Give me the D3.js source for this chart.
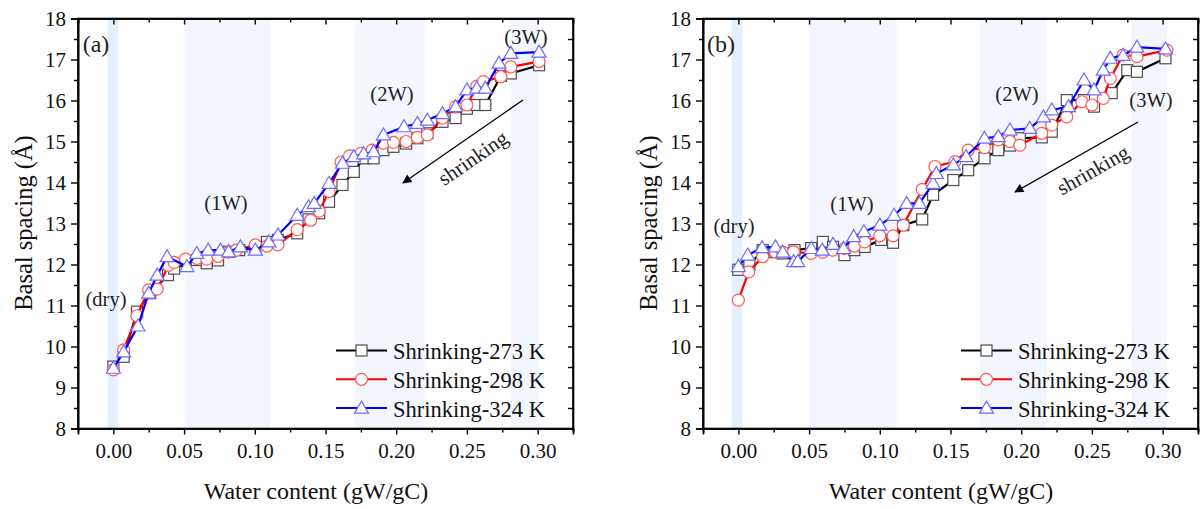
<!DOCTYPE html>
<html>
<head>
<meta charset="utf-8">
<script src="https://cdn.jsdelivr.net/npm/d3@7"></script>
<style>
  html, body { margin: 0; padding: 0; background: #fff; }
  svg { display: block; font-family: "Liberation Serif", "Times New Roman", serif; }
</style>
</head>
<body>
<svg id="chart" width="1204" height="509"></svg>
<script>
// ---- Panel (a) ----
const waterA273 = [0, 0.0073, 0.0167, 0.026, 0.0386, 0.043, 0.059, 0.066, 0.074, 0.0815, 0.089, 0.1004, 0.1086, 0.1164, 0.13, 0.138, 0.1455, 0.1525, 0.162, 0.170, 0.177, 0.184, 0.191, 0.198, 0.207, 0.215, 0.222, 0.2327, 0.242, 0.25, 0.257, 0.263, 0.274, 0.281, 0.301];
const spacingA273 = [9.51, 9.75, 10.85, 11.3, 11.74, 11.9, 12.11, 12.03, 12.1, 12.31, 12.35, 12.4, 12.55, 12.6, 12.76, 13.1, 13.25, 13.53, 13.94, 14.26, 14.59, 14.59, 14.79, 14.87, 14.95, 15.08, 15.2, 15.48, 15.57, 15.8, 15.89, 15.89, 16.6, 16.66, 16.86];
const waterA298 = [0, 0.0073, 0.0167, 0.025, 0.031, 0.039, 0.043, 0.051, 0.059, 0.066, 0.074, 0.0815, 0.087, 0.1004, 0.1086, 0.1164, 0.13, 0.1395, 0.1455, 0.1525, 0.161, 0.167, 0.175, 0.183, 0.191, 0.198, 0.207, 0.215, 0.222, 0.2327, 0.242, 0.25, 0.257, 0.2617, 0.274, 0.281, 0.301];
const spacingA298 = [9.43, 9.92, 10.75, 11.38, 11.4, 11.98, 12.05, 12.13, 12.15, 12.13, 12.2, 12.3, 12.35, 12.48, 12.45, 12.48, 12.85, 13.08, 13.3, 13.78, 14.5, 14.65, 14.71, 14.79, 14.96, 14.98, 15.0, 15.1, 15.16, 15.57, 15.85, 15.89, 16.35, 16.46, 16.58, 16.82, 16.95];
const waterA324 = [0, 0.0073, 0.0174, 0.025, 0.031, 0.038, 0.052, 0.059, 0.067, 0.0757, 0.0815, 0.0898, 0.1004, 0.11, 0.1164, 0.13, 0.138, 0.142, 0.1525, 0.162, 0.170, 0.177, 0.184, 0.191, 0.2055, 0.215, 0.222, 0.2327, 0.242, 0.25, 0.257, 0.263, 0.2727, 0.281, 0.301];
const spacingA324 = [9.47, 9.87, 10.5, 11.3, 11.74, 12.19, 11.95, 12.27, 12.35, 12.35, 12.31, 12.43, 12.35, 12.55, 12.72, 13.2, 13.41, 13.49, 13.98, 14.47, 14.63, 14.7, 14.75, 15.16, 15.36, 15.44, 15.52, 15.68, 15.85, 16.26, 16.3, 16.3, 16.91, 17.15, 17.18];

// ---- Panel (b) ----
const waterB273 = [0, 0.0078, 0.0172, 0.0262, 0.0314, 0.0397, 0.0515, 0.0597, 0.0669, 0.075, 0.082, 0.0893, 0.101, 0.1094, 0.1166, 0.130, 0.1377, 0.152, 0.1625, 0.174, 0.1838, 0.192, 0.199, 0.2145, 0.2216, 0.2322, 0.2444, 0.2515, 0.264, 0.275, 0.2818, 0.302];
const spacingB273 = [11.87, 11.99, 12.35, 12.3, 12.27, 12.35, 12.4, 12.55, 12.43, 12.23, 12.35, 12.43, 12.6, 12.53, 12.96, 13.1, 13.7, 14.06, 14.3, 14.59, 14.79, 14.9, 15.08, 15.1, 15.24, 16.01, 16.01, 15.85, 16.18, 16.74, 16.7, 17.03];
const waterB298 = [0, 0.0073, 0.0172, 0.0262, 0.0314, 0.039, 0.0515, 0.0597, 0.0669, 0.075, 0.082, 0.0893, 0.1, 0.1094, 0.1166, 0.130, 0.139, 0.1531, 0.1625, 0.174, 0.1838, 0.192, 0.199, 0.2145, 0.2216, 0.2322, 0.2429, 0.25, 0.258, 0.263, 0.272, 0.2818, 0.303];
const spacingB298 = [11.13, 11.82, 12.19, 12.3, 12.3, 12.31, 12.27, 12.3, 12.35, 12.39, 12.45, 12.55, 12.7, 12.7, 12.96, 13.83, 14.39, 14.51, 14.79, 14.85, 15.04, 15.0, 14.91, 15.2, 15.4, 15.6, 15.97, 15.89, 16.05, 16.54, 17.11, 17.07, 17.23];
const waterB324 = [0, 0.0066, 0.0168, 0.0262, 0.0314, 0.039, 0.042, 0.0515, 0.0593, 0.0669, 0.0744, 0.0815, 0.0888, 0.1, 0.1101, 0.119, 0.128, 0.1377, 0.14, 0.152, 0.161, 0.174, 0.1838, 0.192, 0.206, 0.2157, 0.2216, 0.2334, 0.2444, 0.2515, 0.258, 0.263, 0.272, 0.2818, 0.302];
const spacingB324 = [11.95, 12.23, 12.41, 12.43, 12.3, 12.07, 12.07, 12.39, 12.35, 12.49, 12.39, 12.68, 12.8, 12.96, 13.2, 13.49, 13.49, 13.98, 14.22, 14.43, 14.63, 15.08, 15.12, 15.28, 15.32, 15.6, 15.77, 15.85, 16.5, 16.26, 16.74, 17.03, 17.1, 17.3, 17.26];

// Hydration-state bands [start, end] in gW/gC
const bandStartA = [-0.004, 0.0503, 0.171, 0.281];
const bandEndA   = [0.0034, 0.111, 0.220, 0.301];
const bandStartB = [-0.0047, 0.0504, 0.171, 0.278];
const bandEndB   = [0.003, 0.112, 0.218, 0.303];

const seriesNames = ["Shrinking-273 K", "Shrinking-298 K", "Shrinking-324 K"];
const xTickValues = [0, 0.05, 0.10, 0.15, 0.20, 0.25, 0.30];
const yTickValues = [8, 9, 10, 11, 12, 13, 14, 15, 16, 17, 18];

const lineColors = ["#000000", "#ff0000", "#0000ff"];
const markerColors = ["#4d4d4d", "#ff5a5a", "#6b6bff"];
const markerTypes = ["square", "circle", "triangle"];

const svg = d3.select("#chart");
const FONT = "Liberation Serif, Times New Roman, serif";

function marker(sel, type, color) {
  if (type === "square") {
    sel.append("rect").attr("x", -5.5).attr("y", -5.5).attr("width", 11).attr("height", 11)
      .attr("fill", "#fff").attr("stroke", color).attr("stroke-width", 1.2);
  } else if (type === "circle") {
    sel.append("circle").attr("r", 6).attr("fill", "#fff").attr("stroke", color).attr("stroke-width", 1.2);
  } else {
    sel.append("path").attr("d", "M0,-7 L7,5 L-7,5 Z")
      .attr("fill", "#fff").attr("stroke", color).attr("stroke-width", 1.2);
  }
}

function drawPanel(p) {
  const left = p.left, right = p.left + 495, top = 18.5, bottom = 428.5;
  const x = d3.scaleLinear().domain([-0.025, 0.325]).range([left, right]);
  const y = d3.scaleLinear().domain([8, 18]).range([bottom, top]);
  const g = svg.append("g");

  // shaded bands
  p.bandStart.forEach((s, i) => {
    g.append("rect")
      .attr("x", x(s)).attr("y", top)
      .attr("width", x(p.bandEnd[i]) - x(s)).attr("height", bottom - top)
      .attr("fill", i === 0 ? "#e6effc" : "#f3f7fd");
  });

  // axes: outward ticks bottom/left, inward ticks top/right
  const allX = d3.range(-0.025, 0.3251, 0.025);
  const isMajorX = v => Math.abs(v / 0.05 - Math.round(v / 0.05)) < 0.01 && v > -0.001 && v < 0.301;
  const halfY = d3.range(8, 18.01, 0.5);
  g.append("g").attr("transform", `translate(0,${bottom})`)
    .call(d3.axisBottom(x).tickValues(xTickValues).tickFormat(d3.format(".2f")).tickSize(6).tickPadding(9));
  g.append("g").attr("transform", `translate(0,${bottom})`)
    .call(d3.axisBottom(x).tickValues(allX.filter(v => !isMajorX(v))).tickFormat("").tickSize(4));
  g.append("g").attr("transform", `translate(0,${top})`)
    .call(d3.axisBottom(x).tickValues(allX.filter(isMajorX)).tickFormat("").tickSize(6));
  g.append("g").attr("transform", `translate(0,${top})`)
    .call(d3.axisBottom(x).tickValues(allX.filter(v => !isMajorX(v) && v > 0 && v < 0.31)).tickFormat("").tickSize(4));
  g.append("g").attr("transform", `translate(${left},0)`)
    .call(d3.axisLeft(y).tickValues(yTickValues).tickSize(7).tickPadding(5));
  g.append("g").attr("transform", `translate(${left},0)`)
    .call(d3.axisLeft(y).tickValues(halfY.filter(v => v % 1 !== 0)).tickFormat("").tickSize(4));
  g.append("g").attr("transform", `translate(${right},0)`)
    .call(d3.axisLeft(y).tickValues(halfY.filter(v => v > 8 && v < 18)).tickFormat("").tickSize(5));
  g.selectAll(".domain").attr("stroke", "#000").attr("stroke-width", 1.6);
  g.selectAll(".tick line").attr("stroke", "#000").attr("stroke-width", 1.4);
  g.selectAll(".tick text").attr("font-family", FONT).attr("font-size", 21).attr("fill", "#111");
  g.append("rect").attr("x", left).attr("y", top).attr("width", right - left).attr("height", bottom - top)
    .attr("fill", "none").attr("stroke", "#000").attr("stroke-width", 1.6);

  // series
  p.series.forEach((s, k) => {
    const pts = s.water.map((w, i) => [w, s.spacing[i]]);
    g.append("path")
      .attr("d", d3.line().x(d => x(d[0])).y(d => y(d[1]))(pts))
      .attr("fill", "none").attr("stroke", lineColors[k]).attr("stroke-width", 2.2);
    pts.forEach(d => {
      const m = g.append("g").attr("transform", `translate(${x(d[0])},${y(d[1])})`);
      marker(m, markerTypes[k], markerColors[k]);
    });
  });

  // annotations
  const txt = (tx, ty, s, size) => g.append("text").attr("x", tx).attr("y", ty)
    .attr("text-anchor", "middle").attr("dominant-baseline", "central")
    .attr("font-family", FONT).attr("font-size", size || 20.5).attr("fill", "#222").text(s);
  txt(left + 18, 44, p.tag, 24);
  p.labels.forEach(l => txt(l[1], l[2], l[0]));

  // shrinking arrow
  const a = p.arrow;
  const id = "ah" + p.tag.replace(/\W/g, "");
  g.append("defs").append("marker").attr("id", id)
    .attr("viewBox", "0 0 10 10").attr("refX", 9).attr("refY", 5)
    .attr("markerWidth", 9).attr("markerHeight", 7).attr("orient", "auto")
    .append("path").attr("d", "M0,0 L10,5 L0,10 z").attr("fill", "#000");
  g.append("line").attr("x1", a[0]).attr("y1", a[1]).attr("x2", a[2]).attr("y2", a[3])
    .attr("stroke", "#000").attr("stroke-width", 1.3)
    .attr("marker-end", `url(#${id})`);
  const ang = Math.atan2(a[1] - a[3], a[0] - a[2]) * 180 / Math.PI;
  g.append("text").attr("transform", `translate(${p.shrinkPos[0]},${p.shrinkPos[1]}) rotate(${ang})`)
    .attr("text-anchor", "middle").attr("dominant-baseline", "central")
    .attr("font-family", FONT).attr("font-size", 21).attr("fill", "#222").text("shrinking");

  // legend
  seriesNames.forEach((name, k) => {
    const ly = 350.5 + k * 28.8;
    const lx = left + 258;
    g.append("line").attr("x1", lx).attr("x2", lx + 51).attr("y1", ly).attr("y2", ly)
      .attr("stroke", lineColors[k]).attr("stroke-width", 2);
    const m = g.append("g").attr("transform", `translate(${lx + 25.5},${ly})`);
    marker(m, markerTypes[k], markerColors[k]);
    g.append("text").attr("x", lx + 57).attr("y", ly + 1).attr("dominant-baseline", "central")
      .attr("font-family", FONT).attr("font-size", 22.5).attr("fill", "#111").text(name);
  });

  // axis titles
  g.append("text").attr("x", left + 238).attr("y", 491)
    .attr("text-anchor", "middle").attr("dominant-baseline", "central")
    .attr("font-family", FONT).attr("font-size", 24).attr("fill", "#111").text("Water content (gW/gC)");
  g.append("text").attr("transform", `translate(${left - 55},223) rotate(-90)`)
    .attr("text-anchor", "middle").attr("dominant-baseline", "central")
    .attr("font-family", FONT).attr("font-size", 24.5).attr("fill", "#111").text("Basal spacing (Å)");
}

drawPanel({
  left: 78, tag: "(a)",
  bandStart: bandStartA, bandEnd: bandEndA,
  series: [
    { water: waterA273, spacing: spacingA273 },
    { water: waterA298, spacing: spacingA298 },
    { water: waterA324, spacing: spacingA324 }
  ],
  labels: [["(dry)", 106, 299], ["(1W)", 226, 203], ["(2W)", 392, 94], ["(3W)", 526, 37]],
  arrow: [523, 100, 403, 183],
  shrinkPos: [473, 158]
});

drawPanel({
  left: 703, tag: "(b)",
  bandStart: bandStartB, bandEnd: bandEndB,
  series: [
    { water: waterB273, spacing: spacingB273 },
    { water: waterB298, spacing: spacingB298 },
    { water: waterB324, spacing: spacingB324 }
  ],
  labels: [["(dry)", 734, 226], ["(1W)", 852, 204], ["(2W)", 1017, 94], ["(3W)", 1151, 100]],
  arrow: [1138, 122, 1015, 192],
  shrinkPos: [1093, 170]
});
</script>
</body>
</html>
